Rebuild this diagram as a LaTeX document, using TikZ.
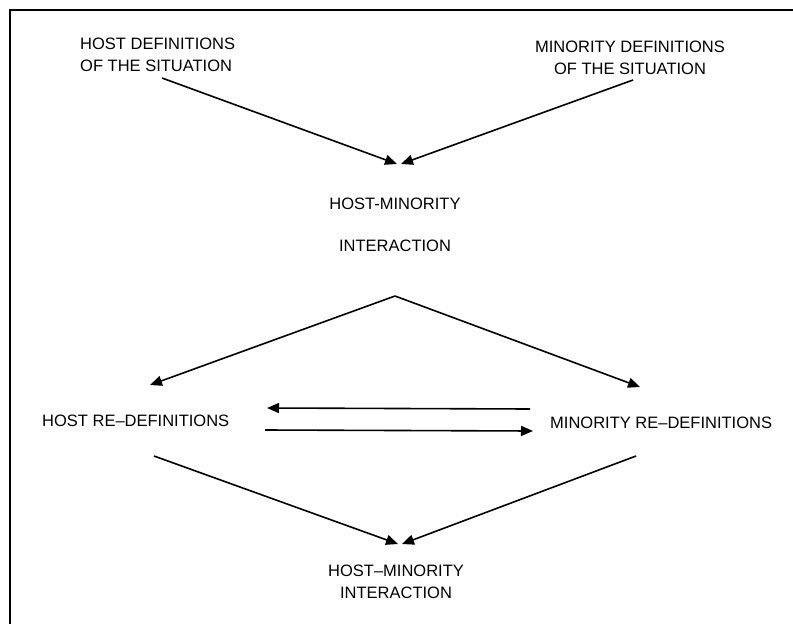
\documentclass[tikz,border=0pt]{standalone}
\usepackage{fontspec}
\setmainfont{Liberation Sans}
\usepackage{tikz}
\usetikzlibrary{arrows.meta}
\usetikzlibrary{positioning}

\tikzset{
	lbl/.style={font=\fontsize{16.5}{22}\selectfont, inner sep=0pt},
	arr/.style={line width=1.6pt, -{Triangle[length=12pt,width=10pt]}},
	frame/.style={line width=1.6pt}
}

\begin{document}
\begin{tikzpicture}[x=1pt,y=-1pt]
	\useasboundingbox (0,0) rectangle (793,624);
	%%%%%%%%%%%%%%% frame
	\draw[frame] (10,624) -- (10,10) -- (793,10);
	%%%%%%%%%%%%%%% labels
	\node[lbl, align=left, anchor=north west] (hostdef) at (80,38)
		{HOST DEFINITIONS\\OF THE SITUATION};
	\node[lbl, align=center, anchor=north] (minordef) at (630,41)
		{MINORITY DEFINITIONS\\OF THE SITUATION};
	\node[lbl, align=center, anchor=north] (inter) at (395,198)
		{HOST-MINORITY\\[20pt]INTERACTION};
	\node[lbl, anchor=north west] (hostre) at (42,415) {HOST RE--DEFINITIONS};
	\node[lbl, anchor=north west] (minorre) at (550,417) {MINORITY RE--DEFINITIONS};
	\node[lbl, align=center, anchor=north] (interb) at (396,565)
		{HOST--MINORITY\\INTERACTION};
	%%%%%%%%%%%%%%% connector ends
	\coordinate (hd) at (162,78);
	\coordinate (md) at (633,80);
	\coordinate (inL) at (397,164);
	\coordinate (inR) at (401,164);
	\coordinate (apex) at (395,296);
	\coordinate (roofL) at (150,385);
	\coordinate (roofR) at (640,387);
	\coordinate (hrR) at (267,408);
	\coordinate (mrL) at (530,409);
	\coordinate (hrA) at (265,430);
	\coordinate (mrB) at (533,431);
	\coordinate (hrD) at (154,456);
	\coordinate (mrD) at (636,456);
	\coordinate (outL) at (398,544);
	\coordinate (outR) at (402,544);
	%%%%%%%%%%%%%%% arrows
	\draw[arr] (hd) -- (inL);
	\draw[arr] (md) -- (inR);
	\draw[arr] (apex) -- (roofL);
	\draw[arr] (apex) -- (roofR);
	\draw[arr] (mrL) -- (hrR);
	\draw[arr] (hrA) -- (mrB);
	\draw[arr] (hrD) -- (outL);
	\draw[arr] (mrD) -- (outR);
\end{tikzpicture}
\end{document}
